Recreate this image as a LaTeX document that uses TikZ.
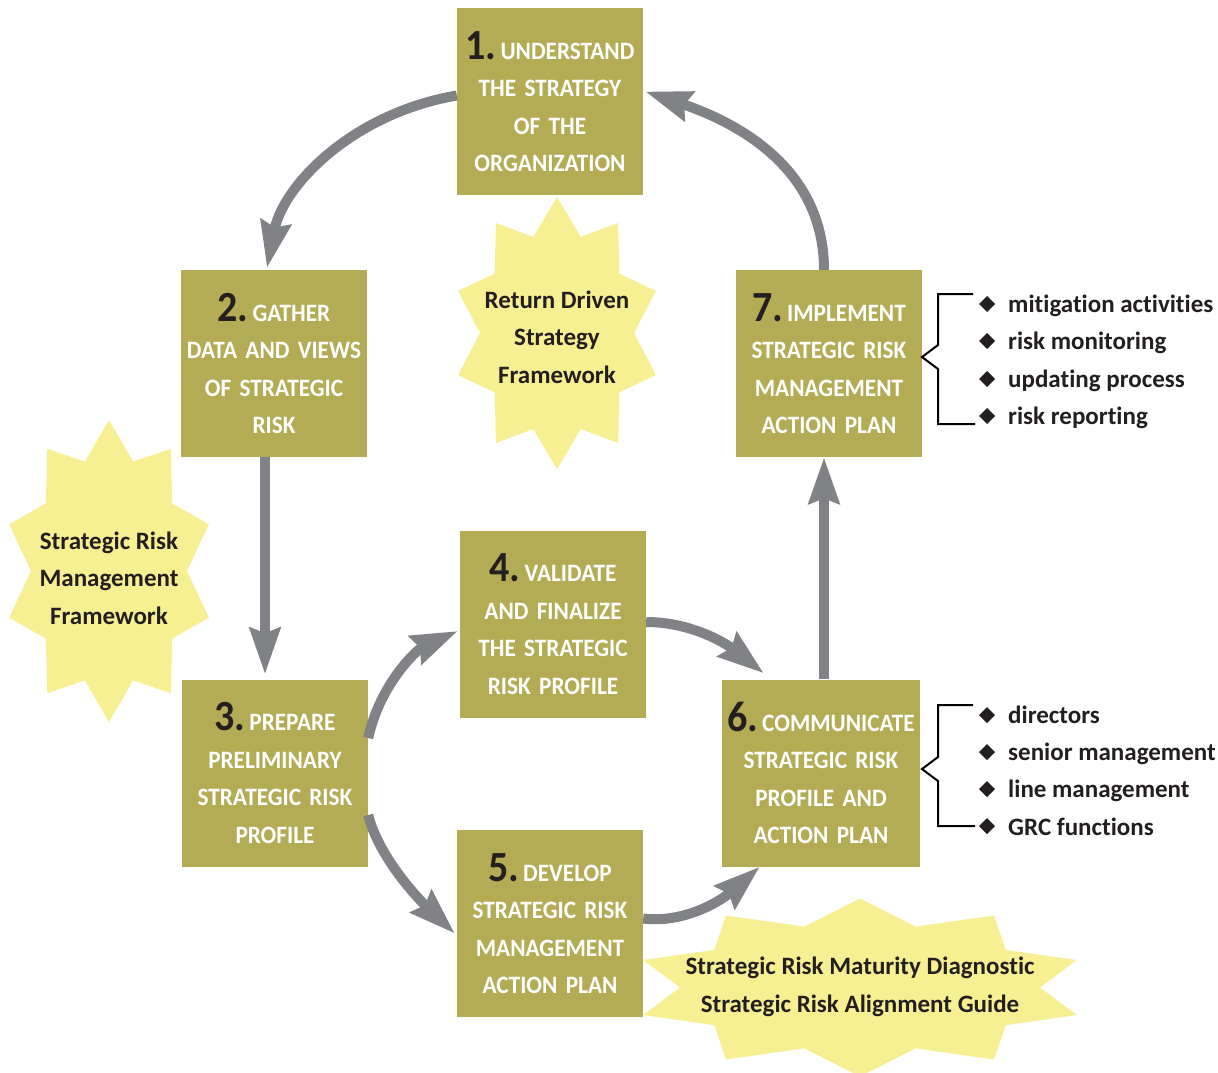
\documentclass[tikz,border=0pt]{standalone}
\usepackage{fontspec}
\setmainfont{Carlito}[FakeStretch=0.93, Ligatures=NoCommon]
\newfontfamily\plainfont{Carlito}[Ligatures=NoCommon]
\usetikzlibrary{arrows.meta,calc}
\definecolor{boxcol}{RGB}{179,172,84}
\definecolor{starcol}{RGB}{246,240,146}
\definecolor{arrcol}{RGB}{128,130,133}
\definecolor{inkcol}{RGB}{35,31,32}
\newcommand\burst[6]{%
  \fill[starcol] plot[samples at={0,...,19}, variable=\k]
    ({#1+ifthenelse(mod(\k,2)==0,#3,#5)*cos(90+18*\k)},
     {#2+ifthenelse(mod(\k,2)==0,#4,#6)*sin(90+18*\k)}) -- cycle;}
\newcommand\bignum[1]{{\fontsize{43}{37.5}\selectfont\color{inkcol}#1.}\hspace{4pt}}
\newcommand\dmd[2]{\fill[inkcol] (#1,#2) ++(0,-8) -- ++(8,8) -- ++(-8,8) -- ++(-8,-8) -- cycle;}
\begin{document}
\begin{tikzpicture}[x=1pt,y=-1pt,
  stepbox/.style={fill=boxcol, inner sep=0pt, minimum width=186pt, minimum height=187pt,
    text width=186pt, align=center, text=white, font=\fontsize{25}{37.5}\selectfont\bfseries},
  startext/.style={align=center, text=inkcol, inner sep=0pt,
    font=\plainfont\fontsize{25}{37.5}\selectfont\bfseries},
  flow/.style={draw=arrcol, line width=10pt, -{Stealth[length=46pt,width=30pt,inset=5pt]}},
  bracket/.style={draw=black, line width=2pt},
  item/.style={anchor=base west, inner sep=0pt, text=inkcol, font=\plainfont\fontsize{25}{30}\selectfont\bfseries},
]
\fill[white] (0,0) rectangle (1218,1072);
\useasboundingbox (0,0) rectangle (1218,1072);

% starbursts
\burst{557}{333}{104}{136}{77}{101}
\burst{109}{571}{105}{151}{78}{115}
\burst{860}{987.5}{228}{89}{180}{64}

% step boxes
\node[stepbox] (b1) at (550,101.5) {\bignum{1}UNDERSTAND\\THE STRATEGY\\OF THE\\ORGANIZATION};
\node[stepbox] (b2) at (274,363.5) {\bignum{2}GATHER\\DATA AND VIEWS\\OF STRATEGIC\\RISK};
\node[stepbox] (b3) at (275,773) {\bignum{3}PREPARE\\PRELIMINARY\\STRATEGIC RISK\\PROFILE};
\node[stepbox] (b4) at (553,624) {\bignum{4}VALIDATE\\AND FINALIZE\\THE STRATEGIC\\RISK PROFILE};
\node[stepbox] (b5) at (550,923.5) {\bignum{5}DEVELOP\\STRATEGIC RISK\\MANAGEMENT\\ACTION PLAN};
\node[stepbox, minimum width=198pt, text width=198pt] (b6) at (821,773) {\bignum{6}COMMUNICATE\\STRATEGIC RISK\\PROFILE AND\\ACTION PLAN};
\node[stepbox] (b7) at (829,363.5) {\bignum{7}IMPLEMENT\\STRATEGIC RISK\\MANAGEMENT\\ACTION PLAN};

% star texts
\node[startext] (sA) at (557,337) {Return Driven\\Strategy\\Framework};
\node[startext] (sB) at (109,578) {Strategic Risk\\Management\\Framework};
\node[startext] (sC) at (860,987) {Strategic Risk Maturity Diagnostic\\Strategic Risk Alignment Guide};

% arrows
\draw[flow] ($(b1.west)+(0,-6)$) .. controls +(-105,18) and +(16,-82) .. ($(b2.north)+(-7,-2)$);
\draw[flow] ($(b2.south)+(-9,0)$) -- ($(b3.north)+(-10,-5)$);
\draw[flow] ($(b3.east)+(0,-35)$) .. controls +(12,-55) and +(-40,18) .. ($(b4.west)+(-2,7)$);
\draw[flow] ($(b3.east)+(0,42)$) .. controls +(10,40) and +(-40,-38) .. ($(b5.west)+(-2,10)$);
\draw[flow] ($(b4.east)+(0,-2)$) .. controls +(45,0) and +(-38,-30) .. ($(b6.north west)+(42,-6)$);
\draw[flow] ($(b5.east)+(0,-5)$) .. controls +(40,5) and +(-40,35) .. ($(b6.south west)+(38,0)$);
\draw[flow] ($(b6.north)+(3,0)$) -- ($(b7.south)+(-5,0)$);
\draw[flow] ($(b7.north)+(-5,0)$) .. controls +(0,-100) and +(95,32) .. ($(b1.east)+(2,-10)$);

% brackets and lists (step 7)
\draw[bracket] (973,294) -- (938,294) -- (938,345) -- (922,357) -- (938,369) -- (938,424) -- (975,424);
\dmd{987}{304}\dmd{987}{341}\dmd{987}{379}\dmd{987}{416}
\node[item] (l7a) at (1008,312) {mitigation activities};
\node[item] (l7b) at (1008,349) {risk monitoring};
\node[item] (l7c) at (1008,387) {updating process};
\node[item] (l7d) at (1008,424) {risk reporting};

% brackets and lists (step 6)
\draw[bracket] (973,705) -- (938,705) -- (938,757) -- (922,769) -- (938,781) -- (938,826) -- (975,826);
\dmd{987}{715}\dmd{987}{752}\dmd{987}{789}\dmd{987}{826}
\node[item] (l6a) at (1008,723) {directors};
\node[item] (l6b) at (1008,760) {senior management};
\node[item] (l6c) at (1008,797) {line management};
\node[item] (l6d) at (1008,835) {GRC functions};
\end{tikzpicture}
\end{document}
